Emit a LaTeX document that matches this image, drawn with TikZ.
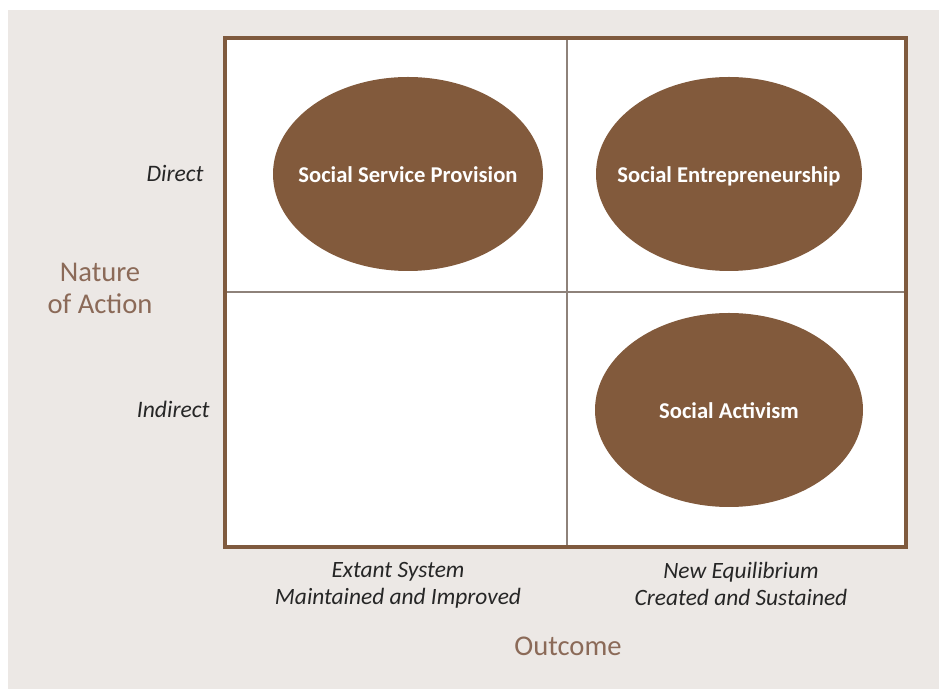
\documentclass[tikz,border=0pt]{standalone}
\usepackage{fontspec}
\setmainfont{Carlito}
\definecolor{pagegray}{HTML}{ECE8E5}
\definecolor{framebrown}{HTML}{7F5A3E}
\definecolor{ovalbrown}{HTML}{825A3C}
\definecolor{labelbrown}{HTML}{8B6A58}
\definecolor{gridgray}{HTML}{8E827A}
\tikzset{
  oval/.style={fill=ovalbrown, draw=none},
  ovaltext/.style={text=white, inner sep=0pt, text height=0.66em, text depth=0pt,
    yshift=-1pt, font=\fontsize{11.3}{13}\selectfont\bfseries},
  rowlabel/.style={font=\fontsize{11.8}{13}\selectfont\itshape, text=black!85,
    inner sep=0pt, text height=0.66em, text depth=0pt},
  collabel/.style={align=center, font=\fontsize{11.7}{13.5}\selectfont\itshape, text=black!85},
  axislabel/.style={align=center, font=\fontsize{14.3}{16}\selectfont, text=labelbrown}
}
\begin{document}
\begin{tikzpicture}[x=0.5pt, y=-0.5pt]
\useasboundingbox (0,0) rectangle (939,689);
\fill[pagegray] (8,10) rectangle (939,689);
% frame corners
\coordinate (NW) at (225,38);
\coordinate (SE) at (906,547);
\coordinate (Ntop) at (567,38);
\coordinate (Nbot) at (567,547);
\coordinate (Wmid) at (225,292);
\coordinate (Emid) at (906,292);
\fill[white] (NW) rectangle (SE);
\path [-, line width=0.8pt, draw=gridgray] (Ntop) edge (Nbot);
\path [-, line width=0.8pt, draw=gridgray] (Wmid) edge (Emid);
\draw[line width=1.6pt, draw=framebrown] (NW) rectangle (SE);
% quadrants
\coordinate (SSP) at (408,174);
\coordinate (SEN) at (729,174);
\coordinate (SA) at (729,410);
\fill[oval] (SSP) ellipse [x radius=135, y radius=97];
\fill[oval] (SEN) ellipse [x radius=133, y radius=97];
\fill[oval] (SA) ellipse [x radius=134, y radius=97];
\node[ovaltext] (SSPtext) at (SSP) {Social Service Provision};
\node[ovaltext] (SENtext) at (SEN) {Social Entrepreneurship};
\node[ovaltext] (SAtext) at (SA) {Social Activism};
% axis labels
\node[rowlabel, anchor=east] (direct) at (204,175) {Direct};
\node[rowlabel, anchor=east] (indirect) at (210,411) {Indirect};
\node[axislabel] (nature) at (100,288) {Nature\\of Action};
\node[collabel] (extant) at (398,585) {Extant System\\Maintained and Improved};
\node[collabel] (neweq) at (741,584) {New Equilibrium\\Created and Sustained};
\node[axislabel] (outcome) at (568,646) {Outcome};
\end{tikzpicture}
\end{document}
